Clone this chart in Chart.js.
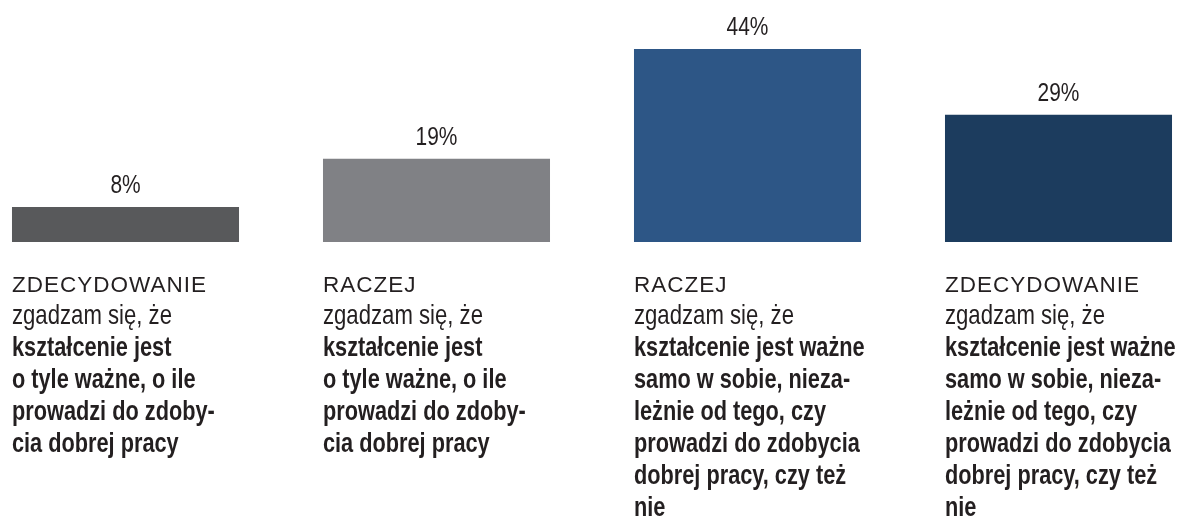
<!DOCTYPE html>
<html lang="pl">
<head>
<meta charset="utf-8">
<title>Kształcenie a praca</title>
<script src="https://cdn.jsdelivr.net/npm/chart.js@4/dist/chart.umd.min.js"></script>
<style>
  html, body { margin: 0; padding: 0; background: #fff; }
  #wrap { width: 1182px; height: 520px; position: relative; }
</style>
</head>
<body>
<div id="wrap"><canvas id="chart"></canvas></div>
<script>
const degrees = ["ZDECYDOWANIE", "RACZEJ", "RACZEJ", "ZDECYDOWANIE"];
const values = [8, 19, 44, 29];
const barColors = ["#58595b", "#808185", "#2d5686", "#1c3c5e"];
const leadLine = "zgadzam się, że";
const jobLines = ["kształcenie jest", "o tyle ważne, o ile", "prowadzi do zdoby-", "cia dobrej pracy"];
const valueLines = ["kształcenie jest ważne", "samo w sobie, nieza-", "leżnie od tego, czy",
                    "prowadzi do zdobycia", "dobrej pracy, czy też", "nie"];
const statements = [jobLines, jobLines, valueLines, valueLines];

const textColor = "#231f20";
const FAMILY = '"Liberation Sans", Arial, sans-serif';

// text squeezed horizontally (and a bit taller) to get a condensed face
function narrowText(ctx, text, x, y, font, sy) {
    ctx.save();
    ctx.font = font;
    ctx.translate(x, y);
    ctx.scale(0.82, sy || 1);
    ctx.fillText(text, 0, 0);
    ctx.restore();
}

const labelPlugin = {
    id: "barTexts",
    afterDatasetsDraw(chart) {
        const ctx = chart.ctx;
        const meta = chart.getDatasetMeta(0);
        const bottom = chart.chartArea.bottom;
        ctx.save();
        ctx.fillStyle = textColor;
        ctx.textBaseline = "alphabetic";

        meta.data.forEach((bar, i) => {
            // value above the bar
            ctx.textAlign = "center";
            narrowText(ctx, values[i] + "%", bar.x, bar.y - 14, "25.5px " + FAMILY);

            // description under the bar
            const left = bar.x - bar.width / 2;
            let y = bottom + 50;
            ctx.textAlign = "left";
            ctx.save();
            ctx.font = "22.5px " + FAMILY;
            ctx.letterSpacing = "1px";
            ctx.fillText(degrees[i], left, y);
            ctx.restore();

            y += 31.5;
            narrowText(ctx, leadLine, left, y, "27px " + FAMILY, 1.05);
            statements[i].forEach(line => {
                y += 32;
                narrowText(ctx, line, left, y, "bold 26.5px " + FAMILY, 1.07);
            });
        });
        ctx.restore();
    }
};

new Chart(document.getElementById("chart"), {
    type: "bar",
    data: {
        labels: degrees,
        datasets: [{
            data: values,
            backgroundColor: barColors,
            borderWidth: 0,
            categoryPercentage: 1,
            barPercentage: 0.73,
            clip: false
        }]
    },
    options: {
        responsive: true,
        maintainAspectRatio: false,
        animation: false,
        layout: { padding: { left: 125.5, right: 123.5, top: 49, bottom: 278 } },
        plugins: { legend: { display: false }, tooltip: { enabled: false } },
        scales: {
            x: { display: false, offset: false },
            y: { display: false, min: 0, max: 44 }
        }
    },
    plugins: [labelPlugin]
});
</script>
</body>
</html>
